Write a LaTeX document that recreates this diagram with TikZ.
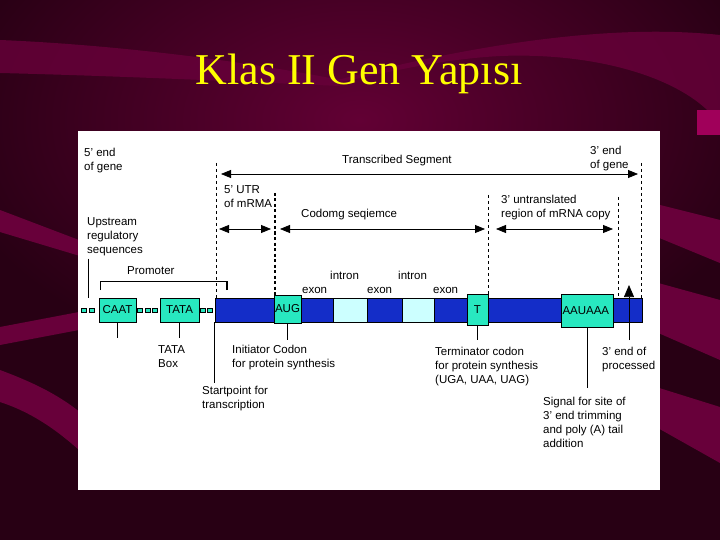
\documentclass[tikz,border=0pt]{standalone}
\usepackage{fontspec}
\setmainfont{Liberation Sans}
\newfontfamily\titlefont{Liberation Serif}
\usetikzlibrary{arrows.meta,positioning}

\definecolor{bgdark}{RGB}{40,0,20}
\definecolor{bgmid}{RGB}{98,0,52}
\definecolor{bandcol}{RGB}{104,0,58}
\definecolor{patchcol}{RGB}{160,0,90}
\definecolor{boxaqua}{RGB}{40,232,192}
\definecolor{barblue}{RGB}{20,45,200}
\definecolor{intronc}{RGB}{204,255,255}
\definecolor{titleyellow}{RGB}{255,255,0}

\begin{document}
\begin{tikzpicture}[
    x=1pt, y=-1pt,
    >={Triangle[length=10pt,width=8pt]},
    font=\fontsize{11.5}{14}\selectfont,
    lbl/.style={anchor=north west, inner sep=0pt, align=left},
    seq/.style={draw=black, fill=boxaqua, inner sep=0pt, line width=0.6pt},
    barpart/.style={draw=black, inner sep=0pt, line width=0.6pt},
    spacer/.style={draw=black, fill=boxaqua, inner sep=0pt,
        minimum width=5pt, minimum height=4pt, line width=0.8pt},
    guide/.style={dashed, line width=0.6pt},
    arr/.style={line width=0.8pt},
    tick/.style={line width=0.7pt},
    band/.style={fill=bandcol}
]
\useasboundingbox (0,0) rectangle (720,540);

% background
\fill[bgdark] (0,0) rectangle (720,540);
\shade[inner color=bgmid, outer color=bgdark] (360,120) ellipse (420 and 260);
\fill[band, opacity=0.8] (0,40) .. controls (120,45) and (250,62) .. (340,80)
    -- (340,86) .. controls (250,82) and (120,76) .. (0,73) -- cycle;
\fill[band, opacity=0.8] (330,82) .. controls (450,50) and (600,22) .. (720,35)
    -- (720,125) .. controls (690,80) and (600,52) .. (500,56)
    .. controls (430,60) and (380,75) .. (330,84) -- cycle;
\fill[patchcol] (697,110) rectangle (720,135);
\fill[band] (0,210) -- (100,248) -- (100,262) -- (0,232) -- cycle;
\fill[band] (0,327) -- (100,308) -- (100,326) -- (0,345) -- cycle;
\fill[band] (0,370) .. controls (40,385) and (70,400) .. (100,430)
    -- (100,470) .. controls (70,440) and (40,415) .. (0,402) -- cycle;
\fill[band] (640,200) -- (720,220) -- (720,263) -- (640,230) -- cycle;
\fill[band] (640,278) -- (720,300) -- (720,360) -- (640,325) -- cycle;
\fill[band] (640,382) -- (720,407) -- (720,463) -- (640,418) -- cycle;

\node[font=\titlefont\fontsize{44}{50}\selectfont, text=titleyellow, anchor=base]
    (title) at (359,85) {Klas II Gen Yapısı};

% white panel
\fill[white] (78,131) rectangle (660,490);

% gene bar
\node[barpart, fill=barblue, minimum width=427pt, minimum height=24pt] (bar) at (428.5,310) {};
\node[barpart, fill=intronc, minimum width=34pt, minimum height=24pt] (intronA) at (350,310) {};
\node[barpart, fill=intronc, minimum width=32pt, minimum height=24pt] (intronB) at (418,310) {};

\node[seq, minimum width=37pt, minimum height=24pt] (caat) at (117.5,310) {CAAT};
\node[seq, minimum width=39pt, minimum height=24pt] (tata) at (179.5,310) {TATA};
\node[seq, minimum width=27pt, minimum height=28pt] (aug) at (287.5,309) {AUG};
\node[seq, minimum width=21pt, minimum height=31pt] (term) at (477.5,309.5) {T};
\node[seq, minimum width=52pt, minimum height=33pt, text width=49pt, align=left,
    inner xsep=1.5pt] (polya) at (587,310.5) {AAUAAA};

% spacers
\node[spacer] (spA) at (83.5,310) {};
\node[spacer] (spB) at (91.5,310) {};
\node[spacer] (spC) at (140,310) {};
\node[spacer] (spD) at (147.5,310) {};
\node[spacer] (spE) at (155,310) {};
\node[spacer] (spF) at (203,310) {};
\node[spacer] (spG) at (210,310) {};

% labels above
\node[lbl] (geneL) at (84,148) {5' end\\of gene};
\node[lbl] (trseg) at (342,155) {Transcribed Segment};
\node[lbl] (geneR) at (590,146) {3' end\\of gene};
\node[lbl] (utrfive) at (224,185) {5' UTR\\of mRMA};
\node[lbl] (coding) at (301,209) {Codomg seqiemce};
\node[lbl] (utrthree) at (501,195) {3' untranslated\\region of mRNA copy};
\node[lbl] (upstream) at (87,217) {Upstream\\regulatory\\sequences};
\node[lbl] (promoter) at (127,266) {Promoter};
\node[lbl] (intronlA) at (330,271) {intron};
\node[lbl] (intronlB) at (398,271) {intron};
\node[lbl] (exonA) at (302,287) {exon};
\node[lbl] (exonB) at (367,287) {exon};
\node[lbl] (exonC) at (433,287) {exon};

% labels below
\node[lbl] (tatalbl) at (158,345) {TATA\\Box};
\node[lbl] (initlbl) at (232,345) {Initiator Codon\\for protein synthesis};
\node[lbl] (startlbl) at (202,386) {Startpoint for\\transcription};
\node[lbl] (termlbl) at (435,347) {Terminator codon\\for protein synthesis\\(UGA, UAA, UAG)};
\node[lbl] (proclbl) at (602,347) {3' end of\\processed};
\node[lbl] (signallbl) at (543,397) {Signal for site of\\3' end trimming\\and poly (A) tail\\addition};

% guide lines
\coordinate (gStart) at (216,163);
\coordinate (gAug) at (275,193);
\coordinate (gStop) at (488,195);
\coordinate (gUtr) at (618,197);
\coordinate (gEnd) at (641,163);
\draw[guide] (gStart) -- (gStart |- bar.north);
\draw[dash pattern=on 3pt off 2.5pt, line width=1.4pt] (gAug) -- (gAug |- aug.north);
\draw[guide] (gStop) -- (gStop |- term.north);
\draw[guide] (gUtr) -- (gUtr |- bar.north);
\draw[guide] (gEnd) -- (gEnd |- bar.north);

% span arrows
\draw[arr,<->] (221,174) coordinate (trL) -- (638,174) coordinate (trR);
\draw[arr,<->] (219,229) coordinate (fiveL) -- (271,229) coordinate (fiveR);
\draw[arr,<->] (280,229) coordinate (cdsL) -- (485,229) coordinate (cdsR);
\draw[arr,<->] (496,229) coordinate (threeL) -- (613,229) coordinate (threeR);

% promoter bracket
\coordinate (prL) at (100,290);
\coordinate (prR) at (227,290);
\draw[tick] (prL) -- ([yshift=9pt]prL) -| (prR);
\draw[line width=1.8pt] (prR) -- ([yshift=9pt]prR);
\draw[tick] ([xshift=1pt,yshift=-3pt]upstream.south west) -- ([xshift=1pt]upstream.south west |- bar.north);

% pointer lines
\coordinate (caatEnd) at (117.5,338);
\draw[tick] (caat.south) -- (caatEnd);
\draw[tick] (tata.south) -- ([yshift=7pt]tatalbl.north -| tata.south);
\draw[tick] (bar.south west) -- ([yshift=3pt]startlbl.north -| bar.south west);
\draw[tick] (aug.south) -- ([yshift=5pt]initlbl.north -| aug.south);
\draw[tick] (term.south) -- ([yshift=7pt]termlbl.north -| term.south);
\draw[tick] (polya.south) -- ([yshift=9pt]signallbl.north -| polya.south);
\coordinate (procTip) at (629,285);
\draw[tick, -{Triangle[length=12pt,width=10pt]}] ([yshift=7pt]proclbl.north -| procTip) -- (procTip);

\end{tikzpicture}
\end{document}
